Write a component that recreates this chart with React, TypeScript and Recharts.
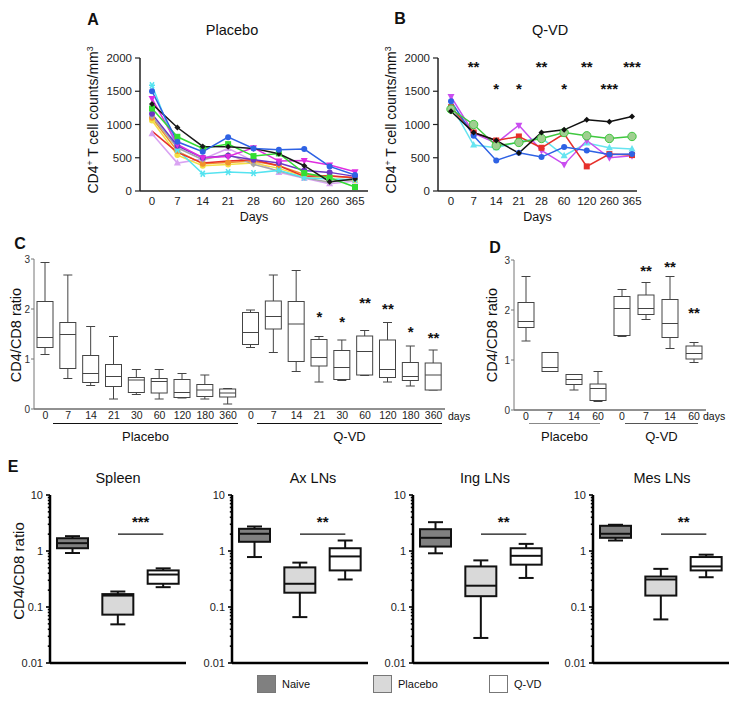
import React from "react";
import {
  LineChart,
  Line,
  ComposedChart,
  Bar,
  XAxis,
  YAxis,
  ReferenceDot,
  ReferenceLine,
} from "recharts";

const FONT = '"Liberation Sans", Arial, Helvetica, sans-serif';

// ---- A / B: CD4 counts per animal
const days = ["0", "7", "14", "21", "28", "60", "120", "260", "365"];

const pViolet = [860, 420, 480, 640, 450, 280, 190, 110, 150];
const pYellow = [1060, 540, 380, 400, 420, 340, 220, 180, 160];
const pOrange = [1100, 600, 410, 430, 450, 380, 250, 220, 200];
const pGray = [1120, 650, 470, 550, 400, 300, 200, 130, 190];
const pCyan = [1590, 620, 260, 285, 270, 310, 200, 180, 170];
const pRed = [900, 580, 420, 450, 470, 380, 220, 230, 200];
const pPurple = [1160, 680, 500, 530, 470, 420, 310, 280, 220];
const pMagenta = [1390, 700, 500, 520, 650, 450, 460, 390, 290];
const pGreen = [1240, 815, 640, 705, 525, 565, 270, 200, 60];
const pBlack = [1310, 955, 670, 665, 640, 560, 380, 140, 180];
const pBlue = [1500, 740, 590, 810, 640, 620, 630, 370, 240];

const qCyan = [1300, 690, 650, 740, 800, 530, 720, 650, 630];
const qMagenta = [1420, 870, 720, 990, 610, 400, 760, 500, 530];
const qRed = [1260, 880, 760, 820, 650, 860, 370, 555, 540];
const qBlue = [1350, 830, 460, 575, 510, 660, 610, 550, 555];
const qGreen = [1230, 1000, 680, 730, 790, 880, 830, 790, 820];
const qBlack = [1200, 880, 760, 570, 880, 920, 1070, 1040, 1120];

const bStarDays = ["7", "14", "21", "28", "60", "120", "260", "365"];
const bStarText = ["**", "*", "*", "**", "*", "**", "***", "***"];
const bStarLevel = [1925, 1595, 1595, 1925, 1595, 1925, 1595, 1925];

// ---- C: CD4/CD8 ratio over time
const cDays = ["0", "7", "14", "21", "30", "60", "120", "180", "360"];
const cMin = [1.09, 0.61, 0.47, 0.2, 0.29, 0.2, 0.22, 0.2, 0.1, 1.23, 1.13, 0.75, 0.54, 0.57, 0.67, 0.54, 0.46, 0.38];
const cQ1 = [1.23, 0.81, 0.53, 0.45, 0.33, 0.32, 0.23, 0.25, 0.24, 1.29, 1.6, 0.95, 0.86, 0.59, 0.68, 0.63, 0.57, 0.38];
const cMed = [1.43, 1.49, 0.71, 0.65, 0.58, 0.55, 0.33, 0.38, 0.32, 1.53, 1.85, 1.7, 1.03, 0.83, 1.15, 0.79, 0.65, 0.68];
const cQ3 = [2.15, 1.73, 1.07, 0.89, 0.63, 0.61, 0.59, 0.49, 0.4, 1.93, 2.16, 2.15, 1.39, 1.17, 1.46, 1.38, 0.93, 0.92];
const cMax = [2.93, 2.68, 1.65, 1.45, 0.79, 0.79, 0.71, 0.68, 0.41, 1.98, 2.68, 2.77, 1.45, 1.38, 1.57, 1.73, 1.26, 1.18];
const cStarKeys = ["q-21", "q-30", "q-60", "q-120", "q-180", "q-360"];
const cStarText = ["*", "*", "**", "**", "*", "**"];
const cStarLevel = [1.92, 1.82, 2.2, 2.08, 1.62, 1.5];

// ---- D
const dDays = ["0", "7", "14", "60"];
const dMin = [1.38, 0.77, 0.4, 0.17, 1.47, 1.81, 1.23, 0.95];
const dQ1 = [1.65, 0.77, 0.51, 0.19, 1.49, 1.91, 1.45, 1.02];
const dMed = [1.77, 0.85, 0.61, 0.43, 2.03, 2.03, 1.73, 1.13];
const dQ3 = [2.15, 1.15, 0.71, 0.52, 2.27, 2.3, 2.21, 1.28];
const dMax = [2.67, 1.15, 0.71, 0.77, 2.41, 2.55, 2.67, 1.35];
const dStarKeys = ["q-7", "q-14", "q-60"];
const dStarText = ["**", "**", "**"];
const dStarLevel = [2.86, 2.94, 2.02];

// ---- E: tissues, [min, q1, median, q3, max] for Naive, Placebo, Q-VD
const eGroups = ["Naive", "Placebo", "Q-VD"];
const spleen = [[0.92, 1.12, 1.38, 1.69, 1.84], [0.049, 0.073, 0.16, 0.17, 0.189], [0.226, 0.26, 0.38, 0.45, 0.49]];
const axLNs = [[0.78, 1.46, 2.03, 2.49, 2.74], [0.066, 0.18, 0.26, 0.51, 0.62], [0.31, 0.45, 0.8, 1.12, 1.54]];
const ingLNs = [[0.91, 1.2, 1.72, 2.45, 3.27], [0.028, 0.156, 0.24, 0.53, 0.68], [0.33, 0.57, 0.82, 1.12, 1.34]];
const mesLNs = [[1.54, 1.72, 2.03, 2.82, 2.94], [0.06, 0.16, 0.31, 0.35, 0.48], [0.34, 0.45, 0.53, 0.78, 0.86]];
const eMajorTicks = [0.01, 0.1, 1, 10];
const eMinorSteps = [2, 3, 4, 5, 6, 7, 8, 9];
const eSigLevel = 2;

const groupFill: Record<string, string> = { Naive: "#808080", Placebo: "#d9d9d9", "Q-VD": "#ffffff" };

const eTicks = eMajorTicks.flatMap((m, i) =>
  i < eMajorTicks.length - 1 ? [m, ...eMinorSteps.map((s) => s * m)] : [m]
);

const placeboSeries = [
  { key: "violet", color: "#d9a3f2", shape: "triangle", values: pViolet },
  { key: "yellow", color: "#f3df45", shape: "circle", values: pYellow },
  { key: "orange", color: "#f2922c", shape: "circle", values: pOrange },
  { key: "gray", color: "#a6a6a6", shape: "diamond", values: pGray },
  { key: "cyan", color: "#55e3f0", shape: "star", values: pCyan },
  { key: "red", color: "#e6302b", shape: "none", values: pRed },
  { key: "purple", color: "#6c36c4", shape: "circle", values: pPurple },
  { key: "magenta", color: "#e02de0", shape: "triDown", values: pMagenta },
  { key: "green", color: "#33dd33", shape: "square", values: pGreen },
  { key: "black", color: "#1a1a1a", shape: "diamond", values: pBlack },
  { key: "blue", color: "#2e62e4", shape: "circle", values: pBlue },
];

const qvdSeries = [
  { key: "cyan", color: "#66e4f0", shape: "triangle", values: qCyan },
  { key: "magenta", color: "#c94df0", shape: "triDown", values: qMagenta },
  { key: "red", color: "#e6302b", shape: "square", values: qRed },
  { key: "blue", color: "#2e62e4", shape: "circle", values: qBlue },
  { key: "green", color: "#3fc83f", shape: "bigCircle", values: qGreen },
  { key: "black", color: "#111111", shape: "diamond", values: qBlack },
];

const toRows = (series: typeof placeboSeries) =>
  days.map((day, i) => {
    const row: Record<string, any> = { day };
    series.forEach((s) => (row[s.key] = s.values[i]));
    return row;
  });

const boxRows = (labels: string[], mins: number[], q1s: number[], meds: number[], q3s: number[], maxs: number[]) =>
  ["p", "q"].flatMap((g, gi) =>
    labels.map((d, i) => {
      const k = gi * labels.length + i;
      return { key: `${g}-${d}`, day: d, min: mins[k], q1: q1s[k], med: meds[k], q3: q3s[k], max: maxs[k] };
    })
  );

const cRows = boxRows(cDays, cMin, cQ1, cMed, cQ3, cMax);
const dRows = boxRows(dDays, dMin, dQ1, dMed, dQ3, dMax);

function Marker(props: any) {
  const { cx, cy, shape, color } = props;
  if (cx == null || cy == null || shape === "none") return <g />;
  const s = 3;
  if (shape === "square") return <rect x={cx - s} y={cy - s} width={2 * s} height={2 * s} fill={color} />;
  if (shape === "triangle")
    return <polygon points={`${cx},${cy - s - 1} ${cx + s + 0.5},${cy + s - 0.5} ${cx - s - 0.5},${cy + s - 0.5}`} fill={color} />;
  if (shape === "triDown")
    return <polygon points={`${cx},${cy + s + 1} ${cx + s + 0.5},${cy - s + 0.5} ${cx - s - 0.5},${cy - s + 0.5}`} fill={color} />;
  if (shape === "diamond")
    return <polygon points={`${cx},${cy - s} ${cx + s},${cy} ${cx},${cy + s} ${cx - s},${cy}`} fill={color} />;
  if (shape === "star")
    return (
      <g stroke={color} strokeWidth={1.5}>
        <line x1={cx - s} x2={cx + s} y1={cy} y2={cy} />
        <line x1={cx - 2} x2={cx + 2} y1={cy - s} y2={cy + s} />
        <line x1={cx + 2} x2={cx - 2} y1={cy - s} y2={cy + s} />
      </g>
    );
  if (shape === "bigCircle") return <circle cx={cx} cy={cy} r={4.2} fill="#9fcf90" stroke={color} strokeWidth={1} />;
  return <circle cx={cx} cy={cy} r={s} fill={color} />;
}

function StarLabel(props: any) {
  const { viewBox, text, lift = 0, size = 15 } = props;
  if (!viewBox) return null;
  const cx = viewBox.x + (viewBox.width || 0) / 2;
  const cy = viewBox.y + (viewBox.height || 0) / 2 - lift;
  return (
    <text x={cx} y={cy + size * 0.58} textAnchor="middle" fontSize={size} fontWeight="bold" fontFamily={FONT} fill="#111">
      {text}
    </text>
  );
}

function BoxShape(props: any) {
  const { x, y, width, height, payload, log, cap, sw, stroke, fill } = props;
  if (x == null || !payload) return <g />;
  const top = Math.min(y, y + height);
  const bottom = Math.max(y, y + height);
  const f = (v: number) => (log ? Math.log10(v) : v);
  const lo = f(payload.min);
  const hi = f(payload.max);
  const py = (v: number) => (hi === lo ? bottom : bottom - ((f(v) - lo) / (hi - lo)) * (bottom - top));
  const cx = x + width / 2;
  const q1 = py(payload.q1);
  const md = py(payload.med);
  const q3 = py(payload.q3);
  return (
    <g stroke={stroke} strokeWidth={sw} fill="none">
      <line x1={cx} x2={cx} y1={top} y2={q3} />
      <line x1={cx} x2={cx} y1={q1} y2={bottom} />
      <line x1={cx - cap / 2} x2={cx + cap / 2} y1={top} y2={top} />
      <line x1={cx - cap / 2} x2={cx + cap / 2} y1={bottom} y2={bottom} />
      <rect x={x} y={q3} width={width} height={Math.max(q1 - q3, 0.5)} fill={fill ?? groupFill[payload.group] ?? "none"} />
      <line x1={x} x2={x + width} y1={md} y2={md} />
    </g>
  );
}

function LogTick(props: any) {
  const { x, y, payload } = props;
  const v = payload.value;
  const major = eMajorTicks.some((m) => Math.abs(m - v) < 1e-9);
  const ax = x + 7;
  return (
    <g>
      <line x1={ax - (major ? 4 : 2.2)} x2={ax} y1={y} y2={y} stroke="#000" strokeWidth={1.6} />
      {major && (
        <text x={x} y={y} dy={4} textAnchor="end" fontSize={11} fill="#222" fontFamily={FONT}>
          {String(v)}
        </text>
      )}
    </g>
  );
}

function Txt({ x, y, size = 13, bold = false, anchor = "middle", rotate = false, color = "#111", children }: any) {
  const tx = anchor === "middle" ? "-50%" : anchor === "end" ? "-100%" : "0";
  return (
    <div
      style={{
        position: "absolute",
        left: x,
        top: y,
        transform: `translate(${tx}, -50%)${rotate ? " rotate(-90deg)" : ""}`,
        fontSize: size,
        fontWeight: bold ? 700 : 400,
        whiteSpace: "nowrap",
        lineHeight: 1,
        color,
      }}
    >
      {children}
    </div>
  );
}

const Sup = ({ children }: any) => (
  <span style={{ fontSize: "0.62em", verticalAlign: "0.55em", lineHeight: 0 }}>{children}</span>
);

function GroupBar({ x1, x2, y, label, color = "#111" }: any) {
  return (
    <>
      <div style={{ position: "absolute", left: x1, top: y, width: x2 - x1, borderTop: `1px solid ${color}` }} />
      <Txt x={(x1 + x2) / 2} y={y + 13} size={13}>
        {label}
      </Txt>
    </>
  );
}

function CountChart({ left, rows, series, yAxisW, plotW, padding, rightM, stars }: any) {
  return (
    <div style={{ position: "absolute", left, top: 40 }}>
      <LineChart width={yAxisW + plotW + rightM} height={190} data={rows} margin={{ top: 18, right: rightM, bottom: 9, left: 0 }}>
        <XAxis
          dataKey="day"
          interval={0}
          padding={padding}
          height={30}
          tickLine={false}
          tickSize={4}
          tickMargin={2}
          axisLine={{ stroke: "#222", strokeWidth: 1.5 }}
          tick={{ fontSize: 11.5, fill: "#222", fontFamily: FONT }}
          label={{ value: "Days", position: "insideBottom", offset: 0, fontSize: 12.5, fill: "#111", fontFamily: FONT }}
        />
        <YAxis
          width={yAxisW}
          domain={[0, 2000]}
          ticks={[0, 500, 1000, 1500, 2000]}
          interval={0}
          tickSize={5}
          tickMargin={3}
          axisLine={{ stroke: "#222", strokeWidth: 1.5 }}
          tickLine={{ stroke: "#222", strokeWidth: 1.2 }}
          tick={{ fontSize: 11.5, fill: "#222", fontFamily: FONT }}
        />
        {series.map((s: any) => (
          <Line
            key={s.key}
            dataKey={s.key}
            stroke={s.color}
            strokeWidth={1.5}
            isAnimationActive={false}
            dot={(p: any) => <Marker key={`${s.key}-${p.index}`} cx={p.cx} cy={p.cy} shape={s.shape} color={s.color} />}
            activeDot={false}
          />
        ))}
        {stars &&
          bStarDays.map((d, i) => (
            <ReferenceDot
              key={d}
              x={d}
              y={bStarLevel[i]}
              r={0}
              fill="none"
              stroke="none"
              label={<StarLabel text={bStarText[i]} size={15} />}
            />
          ))}
      </LineChart>
    </div>
  );
}

function RatioChart({ left, rows, width, rightM, top, starKeys, starText, starLevel }: any) {
  return (
    <div style={{ position: "absolute", left, top }}>
      <ComposedChart width={width} height={200} data={rows} margin={{ top: 29, right: rightM, bottom: 1, left: 10 }}>
        <XAxis
          dataKey="key"
          interval={0}
          height={20}
          tickLine={false}
          tickSize={0}
          tickMargin={3}
          tickFormatter={(k: string) => k.split("-")[1]}
          axisLine={{ stroke: "#222", strokeWidth: 1 }}
          tick={{ fontSize: 10.5, fill: "#222", fontFamily: FONT }}
        />
        <YAxis
          width={24}
          domain={[0, 3]}
          ticks={[0, 1, 2, 3]}
          interval={0}
          tickSize={3}
          tickMargin={1}
          axisLine={{ stroke: "#777", strokeWidth: 1 }}
          tickLine={{ stroke: "#777" }}
          tick={{ fontSize: 10, fill: "#333", fontFamily: FONT }}
        />
        <Bar
          dataKey={(d: any) => [d.min, d.max]}
          barSize={16}
          isAnimationActive={false}
          shape={(p: any) => <BoxShape {...p} cap={9} sw={1} stroke="#444" fill="#fff" />}
        />
        {starKeys.map((k: string, i: number) => (
          <ReferenceDot
            key={k}
            x={k}
            y={starLevel[i]}
            r={0}
            fill="none"
            stroke="none"
            label={<StarLabel text={starText[i]} size={15} />}
          />
        ))}
      </ComposedChart>
    </div>
  );
}

function OrganChart({ left, stats, stars }: any) {
  const rows = eGroups.map((g, i) => ({
    group: g,
    min: stats[i][0],
    q1: stats[i][1],
    med: stats[i][2],
    q3: stats[i][3],
    max: stats[i][4],
  }));
  return (
    <div style={{ position: "absolute", left, top: 470 }}>
      <ComposedChart width={170} height={200} data={rows} margin={{ top: 25, right: 4, bottom: 6, left: 0 }}>
        <XAxis dataKey="group" tick={false} tickLine={false} height={1} axisLine={{ stroke: "#000", strokeWidth: 2.5 }} />
        <YAxis
          scale="log"
          domain={[0.01, 10]}
          allowDataOverflow
          ticks={eTicks}
          interval={0}
          width={30}
          tickSize={4}
          tickMargin={3}
          tickLine={false}
          tick={<LogTick />}
          axisLine={{ stroke: "#000", strokeWidth: 2.5 }}
        />
        <Bar
          dataKey={(d: any) => [d.min, d.max]}
          barSize={31}
          isAnimationActive={false}
          shape={(p: any) => <BoxShape {...p} log cap={15} sw={2} stroke="#111" />}
        />
        <ReferenceLine
          segment={[
            { x: "Placebo", y: eSigLevel },
            { x: "Q-VD", y: eSigLevel },
          ]}
          stroke="#111"
          strokeWidth={1.2}
          label={<StarLabel text={stars} lift={16} size={15} />}
        />
      </ComposedChart>
    </div>
  );
}

export default function App() {
  return (
    <div
      style={{
        position: "absolute",
        left: 0,
        top: 0,
        width: 738,
        height: 701,
        background: "#fff",
        fontFamily: FONT,
        overflow: "hidden",
      }}
    >
      {/* A */}
      <Txt x={93} y={20} size={16} bold>A</Txt>
      <Txt x={232} y={30} size={14.5}>Placebo</Txt>
      <Txt x={93} y={120} size={14} rotate>
        CD4<Sup>+</Sup> T cell counts/mm<Sup>3</Sup>
      </Txt>
      <CountChart left={80} rows={toRows(placeboSeries)} series={placeboSeries} yAxisW={60} plotW={228} padding={{ left: 12, right: 13 }} rightM={2} />

      {/* B */}
      <Txt x={400} y={19} size={16} bold>B</Txt>
      <Txt x={550} y={30} size={14.5}>Q-VD</Txt>
      <Txt x={391} y={120} size={14} rotate>
        CD4<Sup>+</Sup> T cell counts/mm<Sup>3</Sup>
      </Txt>
      <CountChart left={380} rows={toRows(qvdSeries)} series={qvdSeries} yAxisW={58} plotW={199} padding={{ left: 13, right: 5 }} rightM={12} stars />

      {/* C */}
      <Txt x={20} y={244} size={16} bold>C</Txt>
      <Txt x={16} y={335} size={14.5} rotate>CD4/CD8 ratio</Txt>
      <RatioChart left={0} top={230} width={480} rightM={35} rows={cRows} starKeys={cStarKeys} starText={cStarText} starLevel={cStarLevel} />
      <Txt x={448} y={416} size={10.5} anchor="start">days</Txt>
      <GroupBar x1={53} x2={238} y={423} label="Placebo" />
      <GroupBar x1={257} x2={442} y={423} label="Q-VD" />

      {/* D */}
      <Txt x={495} y={248} size={16} bold>D</Txt>
      <Txt x={492} y={335} size={14.5} rotate>CD4/CD8 ratio</Txt>
      <RatioChart left={480} top={231} width={258} rightM={32} rows={dRows} starKeys={dStarKeys} starText={dStarText} starLevel={dStarLevel} />
      <Txt x={703} y={416} size={10.5} anchor="start">days</Txt>
      <GroupBar x1={529} x2={600} y={423} label="Placebo" color="#888" />
      <GroupBar x1={625} x2={698} y={423} label="Q-VD" color="#555" />

      {/* E */}
      <Txt x={13} y={467} size={16} bold>E</Txt>
      <Txt x={18} y={571} size={15} rotate>CD4/CD8 ratio</Txt>
      <Txt x={118} y={478} size={14.5}>Spleen</Txt>
      <Txt x={313} y={478} size={14.5}>Ax LNs</Txt>
      <Txt x={485} y={478} size={14.5}>Ing LNs</Txt>
      <Txt x={662} y={478} size={14.5}>Mes LNs</Txt>
      <OrganChart left={20} stats={spleen} stars="***" />
      <OrganChart left={202} stats={axLNs} stars="**" />
      <OrganChart left={383} stats={ingLNs} stars="**" />
      <OrganChart left={563} stats={mesLNs} stars="**" />

      {/* legend */}
      {eGroups.map((g, i) => (
        <React.Fragment key={g}>
          <div
            style={{
              position: "absolute",
              left: [257, 373, 489][i],
              top: 675,
              width: 19,
              height: 18,
              boxSizing: "border-box",
              border: "1px solid #777",
              background: groupFill[g],
            }}
          />
          <Txt x={[282, 398, 514][i]} y={684} size={11} anchor="start">{g}</Txt>
        </React.Fragment>
      ))}
    </div>
  );
}
